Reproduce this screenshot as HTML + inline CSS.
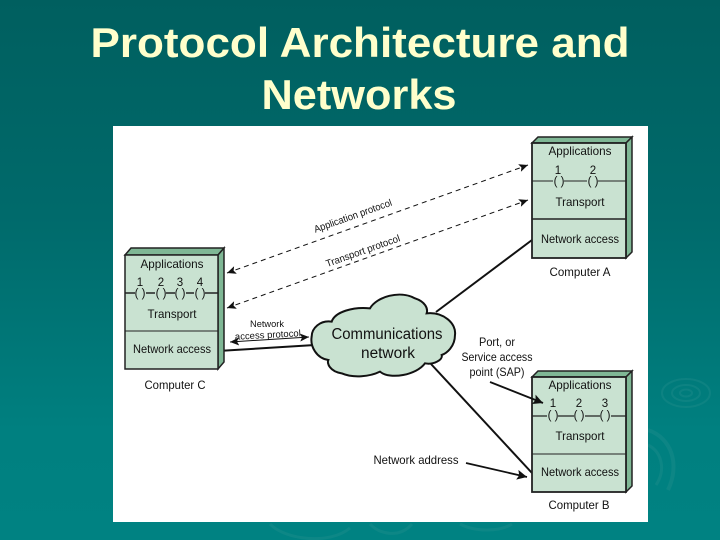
<!DOCTYPE html>
<html>
<head>
<meta charset="utf-8">
<style>
html,body{margin:0;padding:0;width:720px;height:540px;overflow:hidden}
body{background:linear-gradient(180deg,#005f5f 0%,#006a6b 40%,#008080 80%,#008282 100%);position:relative}
svg{position:absolute;left:0;top:0}
text{font-family:"Liberation Sans",sans-serif;fill:#111}
.t{font-size:12px;text-anchor:middle}
</style>
</head>
<body>
<svg width="720" height="540" viewBox="0 0 720 540" xmlns="http://www.w3.org/2000/svg">
<defs>
<marker id="a" markerUnits="userSpaceOnUse" markerWidth="10" markerHeight="8" refX="9" refY="4" orient="auto-start-reverse">
<path d="M0,0 L9,4 L0,8 L2,4Z" fill="#111"/>
</marker>
<marker id="b" markerUnits="userSpaceOnUse" markerWidth="11" markerHeight="10" refX="10" refY="5" orient="auto">
<path d="M0,0 L10,5 L0,10 L2,5Z" fill="#111"/>
</marker>
</defs>

<!-- background swirls -->
<g fill="none" stroke="#2f9492" opacity=".28">
<ellipse cx="686" cy="393" rx="24" ry="14" stroke-width="2"/>
<ellipse cx="686" cy="393" rx="14" ry="8" stroke-width="2"/>
<ellipse cx="686" cy="393" rx="6" ry="3.5" stroke-width="2"/>
<path d="M648,430 C672,438 680,465 668,490" stroke-width="4"/>
<path d="M648,445 C662,452 666,470 656,485" stroke-width="3"/>
<path d="M270,524 C285,540 330,545 350,528" stroke-width="3"/>
<path d="M370,524 C380,535 400,538 412,524" stroke-width="3"/>
<path d="M460,524 C475,532 500,532 512,524" stroke-width="3"/>
</g>

<!-- title -->
<text x="360" y="57" text-anchor="middle" font-size="42" font-weight="bold" style="fill:#ffffcc" textLength="539" lengthAdjust="spacingAndGlyphs">Protocol Architecture and</text>
<text x="359" y="109" text-anchor="middle" font-size="42" font-weight="bold" style="fill:#ffffcc" textLength="195" lengthAdjust="spacingAndGlyphs">Networks</text>

<!-- panel -->
<rect x="113" y="126" width="535" height="396" fill="#fff"/>

<!-- connectors -->
<g stroke="#111" fill="none">
<line x1="218" y1="351" x2="315" y2="345" stroke-width="2"/>
<line x1="436" y1="312" x2="532" y2="240" stroke-width="2"/>
<line x1="431" y1="364" x2="532" y2="473" stroke-width="2"/>
<g stroke-width="1" stroke-dasharray="5 4">
<line x1="227" y1="273" x2="528" y2="165" marker-start="url(#a)" marker-end="url(#a)"/>
<line x1="227" y1="308" x2="528" y2="200" marker-start="url(#a)" marker-end="url(#a)"/>
</g>
<line x1="230" y1="342" x2="309" y2="337" stroke-width="1" marker-start="url(#a)" marker-end="url(#a)"/>
</g>

<!-- Cloud -->
<path transform="translate(220 280) scale(.3333)" fill="#c9e2d1" stroke="#111" stroke-width="6"
d="M275,170 C275,145 300,120 335,125 C345,95 400,80 450,85 C470,50 540,30 585,55 C615,65 625,85 620,100 C670,95 710,130 705,165 C705,200 680,220 665,225 C670,240 640,255 615,250 C590,285 510,300 480,275 C450,290 400,295 365,280 C330,275 320,250 325,240 C290,235 270,200 275,170Z"/>
<text x="387" y="339" text-anchor="middle" font-size="15.5" textLength="111" lengthAdjust="spacingAndGlyphs">Communications</text>
<text x="388" y="358" text-anchor="middle" font-size="15.5" textLength="54" lengthAdjust="spacingAndGlyphs">network</text>

<!-- Computer C -->
<g stroke="#222">
<path d="M125,255 L131,248 L224,248 L218,255Z" fill="#7fb795" stroke-width="1.5"/>
<path d="M218,255 L224,248 L224,362 L218,369Z" fill="#7fb795" stroke-width="1.5"/>
<rect x="125" y="255" width="93" height="114" fill="#c9e2d1" stroke-width="1.5"/>
<line x1="125" y1="331" x2="218" y2="331" stroke-width="1"/>
<line x1="125" y1="293" x2="218" y2="293" stroke-width="1.6"/>
</g>
<g fill="#c9e2d1"><rect x="135" y="288" width="11" height="10"/><rect x="155" y="288" width="11" height="10"/><rect x="175" y="288" width="11" height="10"/><rect x="194" y="288" width="11" height="10"/></g>
<text class="t" x="172" y="268" textLength="63" lengthAdjust="spacingAndGlyphs">Applications</text>
<text class="t" x="172" y="318" textLength="49" lengthAdjust="spacingAndGlyphs">Transport</text>
<text class="t" x="172" y="353" textLength="78" lengthAdjust="spacingAndGlyphs">Network access</text>
<text class="t" x="175" y="389" textLength="61" lengthAdjust="spacingAndGlyphs">Computer C</text>
<g font-size="11.5" text-anchor="middle">
<text x="140" y="286">1</text><text x="161" y="286">2</text><text x="180" y="286">3</text><text x="200" y="286">4</text>
<text x="140" y="297">( )</text><text x="161" y="297">( )</text><text x="180" y="297">( )</text><text x="200" y="297">( )</text>
</g>

<!-- Computer A -->
<g stroke="#222">
<path d="M532,143 L538,137 L632,137 L626,143Z" fill="#7fb795" stroke-width="1.5"/>
<path d="M626,143 L632,137 L632,252 L626,258Z" fill="#7fb795" stroke-width="1.5"/>
<rect x="532" y="143" width="94" height="115" fill="#c9e2d1" stroke-width="1.8"/>
<line x1="532" y1="219" x2="626" y2="219" stroke-width="1.6"/>
<line x1="532" y1="181" x2="626" y2="181" stroke-width="1"/>
</g>
<g fill="#c9e2d1"><rect x="553" y="176" width="11" height="10"/><rect x="587" y="176" width="11" height="10"/></g>
<text class="t" x="580" y="155" textLength="63" lengthAdjust="spacingAndGlyphs">Applications</text>
<text class="t" x="580" y="206" textLength="49" lengthAdjust="spacingAndGlyphs">Transport</text>
<text class="t" x="580" y="243" textLength="78" lengthAdjust="spacingAndGlyphs">Network access</text>
<text class="t" x="580" y="276" textLength="61" lengthAdjust="spacingAndGlyphs">Computer A</text>
<g font-size="11.5" text-anchor="middle">
<text x="558" y="174">1</text><text x="593" y="174">2</text>
<text x="559" y="185">( )</text><text x="593" y="185">( )</text>
</g>

<!-- Computer B -->
<g stroke="#222">
<path d="M532,377 L538,371 L632,371 L626,377Z" fill="#7fb795" stroke-width="1.5"/>
<path d="M626,377 L632,371 L632,486 L626,492Z" fill="#7fb795" stroke-width="1.5"/>
<rect x="532" y="377" width="94" height="115" fill="#c9e2d1" stroke-width="1.8"/>
<line x1="532" y1="454" x2="626" y2="454" stroke-width="1"/>
<line x1="532" y1="416" x2="626" y2="416" stroke-width="1.2"/>
</g>
<g fill="#c9e2d1"><rect x="547" y="411" width="11" height="10"/><rect x="574" y="411" width="11" height="10"/><rect x="600" y="411" width="11" height="10"/></g>
<text class="t" x="580" y="389" textLength="63" lengthAdjust="spacingAndGlyphs">Applications</text>
<text class="t" x="580" y="440" textLength="49" lengthAdjust="spacingAndGlyphs">Transport</text>
<text class="t" x="580" y="476" textLength="78" lengthAdjust="spacingAndGlyphs">Network access</text>
<text class="t" x="579" y="509" textLength="61" lengthAdjust="spacingAndGlyphs">Computer B</text>
<g font-size="11.5" text-anchor="middle">
<text x="553" y="407">1</text><text x="579" y="407">2</text><text x="605" y="407">3</text>
<text x="553" y="419">( )</text><text x="579" y="419">( )</text><text x="605" y="419">( )</text>
</g>

<!-- callout arrows drawn over the boxes -->
<g stroke="#111" fill="none" stroke-width="1.8">
<line x1="490" y1="382" x2="543" y2="403" marker-end="url(#b)"/>
<line x1="466" y1="463" x2="527" y2="477" marker-end="url(#b)"/>
</g>

<!-- labels -->
<text class="t" x="497" y="346" textLength="36" lengthAdjust="spacingAndGlyphs">Port, or</text>
<text class="t" x="497" y="361" textLength="71" lengthAdjust="spacingAndGlyphs">Service access</text>
<text class="t" x="497" y="376" textLength="55" lengthAdjust="spacingAndGlyphs">point (SAP)</text>
<text class="t" x="416" y="464" textLength="85" lengthAdjust="spacingAndGlyphs">Network address</text>
<text x="267" y="327" text-anchor="middle" font-size="9.5" textLength="34" lengthAdjust="spacingAndGlyphs">Network</text>
<text x="268" y="338" text-anchor="middle" font-size="9.5" textLength="66" lengthAdjust="spacingAndGlyphs" transform="rotate(-3 268 338)">access protocol</text>
<text x="354" y="219" text-anchor="middle" font-size="10" textLength="82" lengthAdjust="spacingAndGlyphs" transform="rotate(-19.6 354 219)">Application protocol</text>
<text x="364" y="254" text-anchor="middle" font-size="10" textLength="78" lengthAdjust="spacingAndGlyphs" transform="rotate(-19.6 364 254)">Transport protocol</text>
</svg>
</body>
</html>
